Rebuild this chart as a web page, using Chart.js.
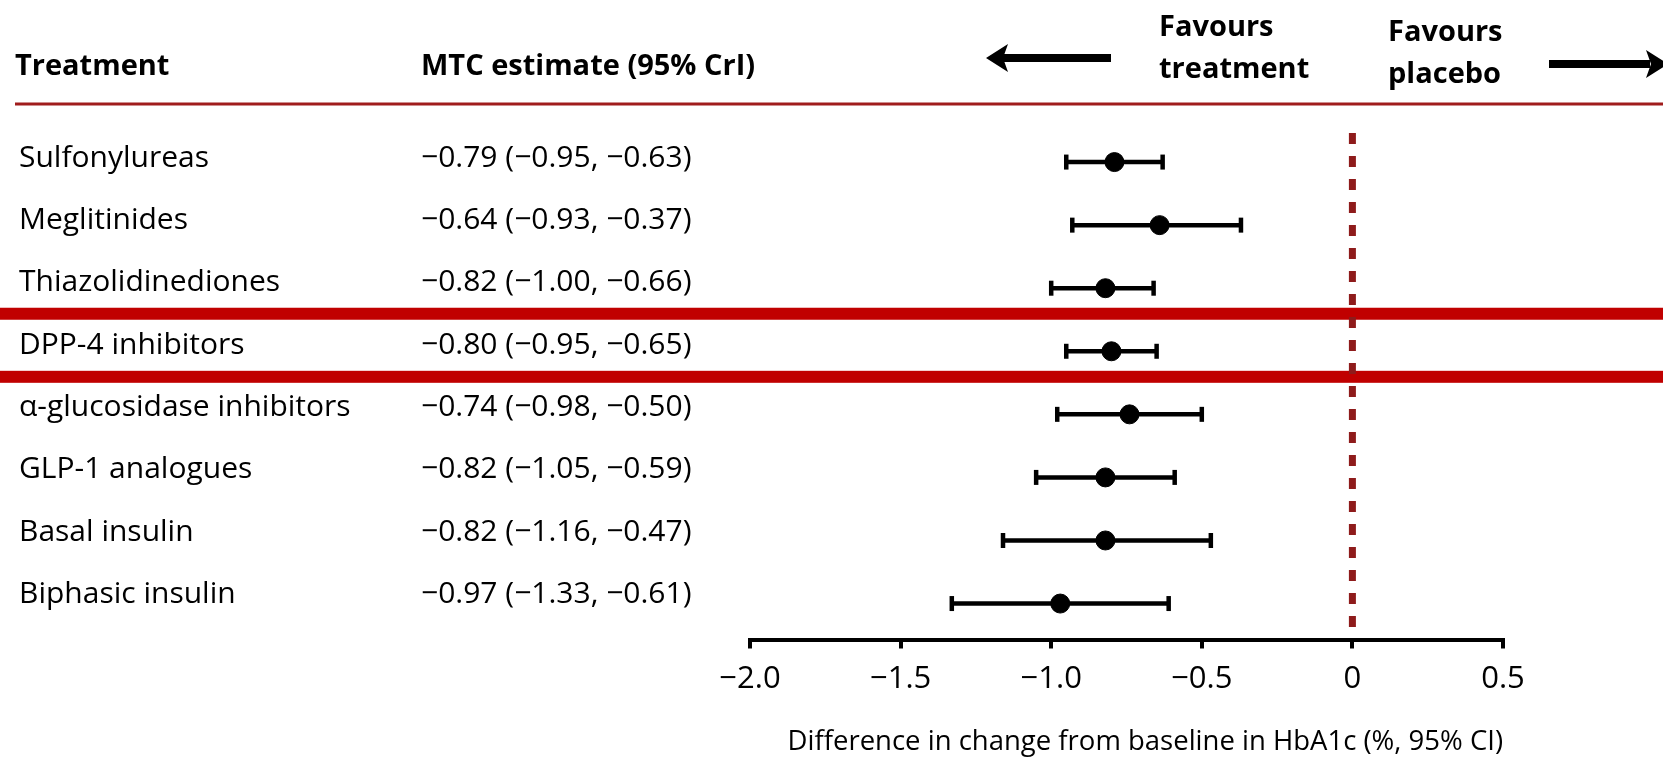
<!DOCTYPE html>
<html>
<head>
<meta charset="utf-8">
<script src="https://cdn.jsdelivr.net/npm/chart.js@4"></script>
<style>
  html, body { margin: 0; padding: 0; background: #fff; }
  #wrap { width: 1663px; height: 759px; position: relative; }
</style>
</head>
<body>
<div id="wrap"><canvas id="myChart"></canvas></div>
<script>
// rows, top to bottom
const treatments = [
    'Sulfonylureas',
    'Meglitinides',
    'Thiazolidinediones',
    'DPP-4 inhibitors',
    'α-glucosidase inhibitors',
    'GLP-1 analogues',
    'Basal insulin',
    'Biphasic insulin',
];
const estimate = [-0.79, -0.64, -0.82, -0.80, -0.74, -0.82, -0.82, -0.97];
const lower    = [-0.95, -0.93, -1.00, -0.95, -0.98, -1.05, -1.16, -1.33];
const upper    = [-0.63, -0.37, -0.66, -0.65, -0.50, -0.59, -0.47, -0.61];
const xTicks = [-2.0, -1.5, -1.0, -0.5, 0, 0.5];
const highlighted = 'DPP-4 inhibitors';

const FONT = "'Open Sans', 'Noto Sans', sans-serif";
const DARKRED = '#8e1b1b';

// minus sign like the original typesetting
function num(v, d) {
    if (v === 0) return '0';
    return (v < 0 ? '\u2212' : '') + Math.abs(v).toFixed(d);
}

const errorBars = treatments.map((t, i) => ({
    type: 'line',
    data: [{x: lower[i], y: i}, {x: upper[i], y: i}],
    borderColor: '#000',
    borderWidth: 4.5,
    pointStyle: 'line',
    rotation: 90,
    pointRadius: 7.5,
    pointBorderWidth: 4.5,
    pointBorderColor: '#000',
    clip: false,
    order: 2,
}));

const tablePlugin = {
    id: 'table',
    beforeDatasetsDraw(chart) {
        const ctx = chart.ctx;
        const y = chart.scales.y;
        ctx.save();
        // header rule
        ctx.fillStyle = '#a01c1c';
        ctx.fillRect(15, 102.5, 1663 - 15, 3);
        // red band around the highlighted row
        const k = treatments.indexOf(highlighted);
        ctx.fillStyle = '#c00000';
        [k - 0.5, k + 0.5].forEach(v => {
            const py = y.getPixelForValue(v) - 6;
            ctx.fillRect(0, py - 6, 1663, 12);
        });
        ctx.restore();
    },
    afterDraw(chart) {
        const ctx = chart.ctx;
        const y = chart.scales.y;
        ctx.save();
        ctx.fillStyle = '#000';
        ctx.textBaseline = 'middle';
        ctx.textAlign = 'left';

        ctx.font = 'bold 29px ' + FONT;
        ctx.fillText('Treatment', 15, 67);
        ctx.fillText('MTC estimate (95% CrI)', 421, 67);
        ctx.fillText('Favours', 1159, 28);
        ctx.fillText('treatment', 1159, 70);
        ctx.fillText('Favours', 1388, 33);
        ctx.fillText('placebo', 1388, 75);

        ctx.font = '30px ' + FONT;
        treatments.forEach((t, i) => {
            const py = y.getPixelForValue(i) - 4 - i * 0.7;
            ctx.fillText(t, 19, py);
            ctx.fillText(num(estimate[i], 2) + ' (' + num(lower[i], 2) + ', ' + num(upper[i], 2) + ')', 421, py);
        });

        // arrows
        ctx.fillStyle = '#000';
        ctx.fillRect(1003, 54, 1111 - 1003, 8);
        ctx.beginPath();
        ctx.moveTo(986, 58);
        ctx.lineTo(1008, 44);
        ctx.lineTo(1003, 58);
        ctx.lineTo(1008, 72);
        ctx.closePath();
        ctx.fill();

        ctx.fillRect(1549, 60, 1650 - 1549, 8);
        ctx.beginPath();
        ctx.moveTo(1668, 64);
        ctx.lineTo(1646, 50);
        ctx.lineTo(1651, 64);
        ctx.lineTo(1646, 78);
        ctx.closePath();
        ctx.fill();
        ctx.restore();
    }
};

const config = {
    type: 'scatter',
    data: {
        datasets: [
            {
                type: 'line',
                data: [{x: 0, y: -0.46}, {x: 0, y: 7.37}],
                borderColor: DARKRED,
                borderWidth: 7,
                borderDash: [11, 12],
                pointRadius: 0,
                clip: false,
                order: 3,
            },
            ...errorBars,
            {
                data: estimate.map((v, i) => ({x: v, y: i})),
                backgroundColor: '#000',
                borderColor: '#000',
                pointRadius: 9.5,
                pointHoverRadius: 9.5,
                clip: false,
                order: 1,
            },
        ]
    },
    options: {
        responsive: true,
        maintainAspectRatio: false,
        animation: false,
        events: [],
        layout: {padding: {left: 750, right: 160, top: 99, bottom: 0}},
        plugins: {legend: {display: false}, tooltip: {enabled: false}},
        scales: {
            x: {
                type: 'linear',
                min: -2,
                max: 0.5,
                afterBuildTicks(s) { s.ticks = xTicks.map(v => ({value: v})); },
                afterFit(s) { s.height = 119.5; },
                ticks: {
                    color: '#000',
                    padding: 12,
                    maxRotation: 0,
                    font: {family: FONT, size: 31},
                    callback: v => num(v, 1),
                },
                grid: {drawOnChartArea: false, drawTicks: true, tickLength: 9, color: '#000', lineWidth: 4},
                border: {display: true, color: '#000', width: 4},
                title: {
                    display: true,
                    text: 'Difference in change from baseline in HbA1c (%, 95% CI)',
                    color: '#000',
                    align: 'end',
                    font: {family: FONT, size: 27.5},
                    padding: {top: 0, bottom: 0},
                },
            },
            y: {
                type: 'linear',
                display: false,
                reverse: true,
                min: -1,
                max: 7.57,
            },
        },
    },
    plugins: [tablePlugin],
};

new Chart(document.getElementById('myChart'), config);
</script>
</body>
</html>
